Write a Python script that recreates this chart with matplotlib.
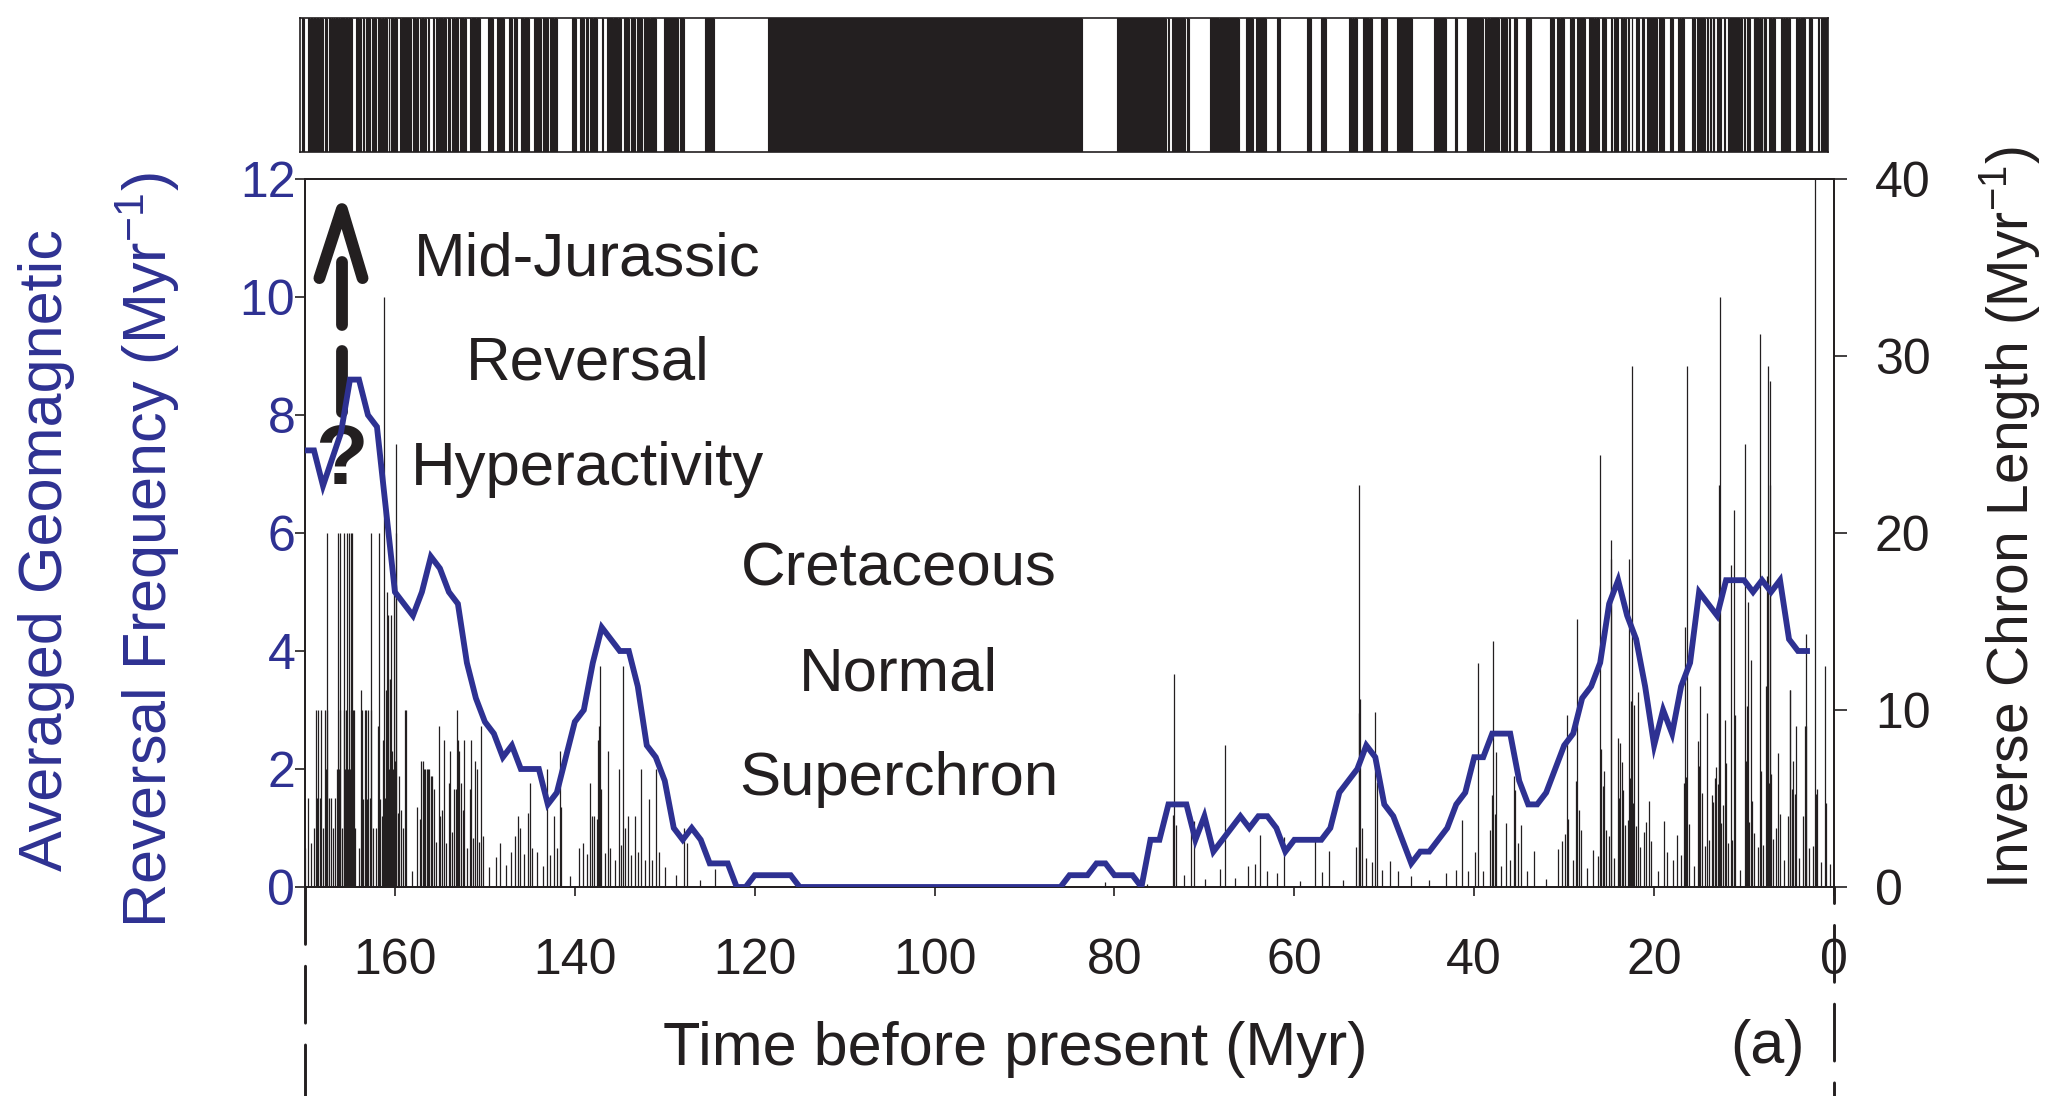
import numpy as np
import matplotlib
matplotlib.use('Agg')
import matplotlib.pyplot as plt
from matplotlib.lines import Line2D

plt.rcParams['font.family'] = ['Liberation Sans', 'DejaVu Sans']
plt.rcParams['mathtext.fontset'] = 'custom'
plt.rcParams['mathtext.rm'] = 'Liberation Sans'
plt.rcParams['mathtext.default'] = 'regular'

INK = '#231f20'
BLUE = '#2e3192'

# polarity reversal ages (Myr), youngest first; chron 0 is normal
reversal_ages = [
    0.0, 0.780, 0.990, 1.070, 1.770, 1.950, 2.140, 2.150, 2.581, 3.040, 3.110, 3.220,
    3.330, 3.580, 4.180, 4.290, 4.480, 4.620, 4.800, 4.890, 4.980, 5.230, 5.894, 6.137,
    6.269, 6.567, 6.935, 7.091, 7.135, 7.170, 7.341, 7.375, 7.432, 7.562, 7.650, 8.072,
    8.225, 8.257, 8.699, 9.025, 9.230, 9.308, 9.580, 9.642, 9.740, 9.880, 9.920, 10.949,
    11.052, 11.099, 11.476, 11.531, 11.935, 12.078, 12.184, 12.401, 12.678, 12.708,
    12.775, 12.819, 12.991, 13.139, 13.302, 13.510, 13.703, 14.076, 14.178, 14.612,
    14.800, 14.888, 15.034, 15.155, 16.014, 16.293, 16.327, 16.488, 16.556, 16.726,
    17.277, 17.615, 18.281, 18.781, 19.048, 20.131, 20.518, 20.725, 20.996, 21.320,
    21.768, 21.859, 22.151, 22.248, 22.459, 22.493, 22.588, 22.750, 22.804, 23.069,
    23.353, 23.535, 23.677, 23.800, 23.999, 24.118, 24.730, 24.781, 24.835, 25.183,
    25.496, 25.648, 25.823, 25.951, 25.992, 26.554, 27.027, 27.972, 28.283, 28.512,
    28.578, 28.745, 29.401, 29.662, 29.765, 30.098, 30.479, 30.939, 33.058, 33.545,
    34.655, 34.940, 35.343, 35.526, 35.685, 36.341, 36.618, 37.473, 37.604, 37.848,
    37.920, 38.113, 38.426, 39.552, 39.631, 40.130, 41.257, 41.521, 42.536, 43.789,
    46.264, 47.906, 49.037, 49.714, 50.778, 50.946, 51.047, 51.743, 52.364, 52.663,
    52.757, 52.801, 52.903, 53.347, 55.904, 56.391, 57.554, 57.911, 60.920, 61.276,
    62.499, 63.634, 63.976, 64.745, 65.578, 67.610, 67.735, 68.737, 71.071, 71.338,
    71.587, 73.004, 73.291, 73.374, 73.619, 79.075, 83.000,
    117.9, 123.9, 124.9, 127.3, 127.7, 128.0, 129.5, 130.4, 130.9, 131.05, 131.7, 131.9,
    132.55, 132.7, 133.2, 133.45, 134.0, 134.25, 134.55, 134.63, 135.05, 135.2, 135.85,
    136.3, 136.43, 136.95, 137.13, 137.21, 137.32, 137.44, 137.7, 137.95, 138.2, 138.37,
    138.9, 139.3, 139.75, 141.4, 141.62, 141.75, 142.2, 142.45, 143.0, 143.15, 144.0,
    144.5, 144.95, 145.12, 145.36, 145.9, 146.2, 146.45, 146.8, 147.3, 148.1, 148.5,
    149.1, 150.0, 150.35, 150.46, 150.85, 151.0, 151.14, 151.5, 151.62, 151.8, 152.25,
    152.37, 152.6, 152.77, 152.9, 153.02, 153.12, 153.3, 153.48, 153.8, 153.93, 154.1,
    154.5, 154.62, 154.85, 155.1, 155.21, 155.6, 155.78, 155.94, 156.1, 156.25, 156.4,
    156.55, 156.7, 156.85, 156.99, 157.13, 157.39, 157.61, 158.7, 158.8, 158.9, 159.2,
    159.43, 159.59, 159.83, 159.87, 159.92, 160.06, 160.12, 160.27, 160.4, 160.465,
    160.55, 160.7, 160.765, 160.85, 160.91, 161.0, 161.2, 161.23, 161.35, 161.6, 161.8,
    161.85, 161.96, 162.26, 162.56, 162.66, 162.71, 162.91, 163.01, 163.21, 163.31,
    163.41, 163.61, 163.71, 163.8, 164.25, 164.55, 164.65, 164.75, 164.8, 164.9, 164.95,
    165.1, 165.15, 165.3, 165.35, 165.45, 165.6, 165.65, 165.75, 166.05, 166.1, 166.2,
    166.35, 166.4, 166.55, 166.75, 167.05, 167.25, 167.45, 167.55, 167.6, 167.75, 167.85,
    168.15, 168.25, 168.45, 168.55, 168.75, 168.85, 169.15, 169.55, 169.75, 170.2,
]

# averaged reversal frequency (Myr^-1)
freq_age = [170, 169, 168, 166, 165, 164, 163, 162, 160, 158, 157, 156, 155, 154, 153,
            152, 151, 150, 149, 148, 147, 146, 144, 143, 142, 141, 140, 139, 138, 137,
            136, 135, 134, 133, 132, 131, 130, 129, 128, 127, 126, 125, 123, 122, 121,
            120, 116, 115, 86, 85, 83, 82, 81, 80, 78, 77, 76, 75, 74, 72, 71, 70, 69,
            68, 67, 66, 65, 64, 63, 62, 61, 60, 57, 56, 55, 54, 53, 52, 51, 50, 49, 48,
            47, 46, 45, 44, 43, 42, 41, 40, 39, 38, 36, 35, 34, 33, 32, 31, 30, 29, 28,
            27, 26, 25, 24, 23, 22, 21, 20, 19, 18, 17, 16, 15, 14, 13, 12, 10, 9, 8, 7,
            6, 5, 4, 3]
freq_value = [7.4, 7.4, 6.8, 7.7, 8.6, 8.6, 8.0, 7.8, 5.0, 4.6, 5.0, 5.6, 5.4, 5.0, 4.8,
              3.8, 3.2, 2.8, 2.6, 2.2, 2.4, 2.0, 2.0, 1.4, 1.6, 2.2, 2.8, 3.0, 3.8, 4.4,
              4.2, 4.0, 4.0, 3.4, 2.4, 2.2, 1.8, 1.0, 0.8, 1.0, 0.8, 0.4, 0.4, 0.0, 0.0,
              0.2, 0.2, 0.0, 0.0, 0.2, 0.2, 0.4, 0.4, 0.2, 0.2, 0.0, 0.8, 0.8, 1.4, 1.4,
              0.8, 1.2, 0.6, 0.8, 1.0, 1.2, 1.0, 1.2, 1.2, 1.0, 0.6, 0.8, 0.8, 1.0, 1.6,
              1.8, 2.0, 2.4, 2.2, 1.4, 1.2, 0.8, 0.4, 0.6, 0.6, 0.8, 1.0, 1.4, 1.6, 2.2,
              2.2, 2.6, 2.6, 1.8, 1.4, 1.4, 1.6, 2.0, 2.4, 2.6, 3.2, 3.4, 3.8, 4.8, 5.2,
              4.6, 4.2, 3.4, 2.4, 3.0, 2.6, 3.4, 3.8, 5.0, 4.8, 4.6, 5.2, 5.2, 5.0, 5.2,
              5.0, 5.2, 4.2, 4.0, 4.0]

time_ticks = [160, 140, 120, 100, 80, 60, 40, 20, 0]
freq_ticks = [0, 2, 4, 6, 8, 10, 12]
inv_ticks = [0, 10, 20, 30, 40]

W, H = 2049, 1096
fig = plt.figure(figsize=(W / 100, H / 100), dpi=100)


def box(x0, y0, x1, y1):
    return [x0 / W, 1 - y1 / H, (x1 - x0) / W, (y1 - y0) / H]


ax = fig.add_axes(box(305, 179, 1834, 887))
ax2 = ax.twinx()
ax.set_zorder(ax2.get_zorder() + 1)
ax.patch.set_visible(False)

# inverse chron length bars
bounds = np.array(reversal_ages)
mids = (bounds[:-1] + bounds[1:]) / 2
inv_len = 1 / np.diff(bounds)
ax2.vlines(mids, 0, inv_len, color=INK, lw=0.9)

# running reversal frequency
ax.plot(freq_age, freq_value, color=BLUE, lw=4.2, solid_joinstyle='miter', zorder=3)

ax.set_xlim(170, 0)
ax.set_ylim(0, 12)
ax2.set_ylim(0, 40)
ax.set_xticks(time_ticks)
ax.set_yticks(freq_ticks)
ax2.set_yticks(inv_ticks)

ax.tick_params(axis='x', direction='out', length=6.5, width=1.2, pad=30, labelsize=36,
               colors=INK)
ax.tick_params(axis='y', direction='out', length=7, width=1.2, pad=0, labelsize=36,
               color=INK, labelcolor=BLUE)
ax2.tick_params(axis='y', direction='out', length=9.5, width=1.2, pad=20, labelsize=36,
                colors=INK)
for a in (ax, ax2):
    for s in a.spines.values():
        s.set_linewidth(1.3)
        s.set_color(INK)

# annotation: arrow and question mark
ax.plot([168.4, 165.9, 163.6], [10.32, 11.49, 10.32], color=INK, lw=8.5,
        solid_capstyle='round', solid_joinstyle='round', zorder=2)
ax.plot([165.9, 165.9], [10.59, 9.53], color=INK, lw=8.5, solid_capstyle='round', zorder=2)
ax.plot([165.9, 165.9], [9.08, 8.05], color=INK, lw=8.5, solid_capstyle='round', zorder=2)
ax.text(165.9, 7.2, '?', fontsize=62, fontweight='bold', color=INK,
        ha='center', va='center', zorder=1)

for label, x, y in [('Mid-Jurassic', 138.6, 10.62), ('Reversal', 138.6, 8.87),
                    ('Hyperactivity', 138.6, 7.08), ('Cretaceous', 104.0, 5.38),
                    ('Normal', 104.0, 3.6), ('Superchron', 104.0, 1.82)]:
    ax.text(x, y, label, fontsize=44.5, color=INK, ha='center', va='center', zorder=1)

# axis titles
fig.text(47 / W, 1 - 550 / H, 'Averaged Geomagnetic', rotation=90, fontsize=44,
         color=BLUE, ha='center', va='center')
fig.text(148 / W, 1 - 550 / H, 'Reversal Frequency (Myr$^{-1}$)', rotation=90,
         fontsize=44, color=BLUE, ha='center', va='center')
fig.text(2009 / W, 1 - 518 / H, 'Inverse Chron Length (Myr$^{-1}$)', rotation=90,
         fontsize=41, color=INK, ha='center', va='center')
fig.text(1015 / W, 1 - 1050 / H, 'Time before present (Myr)', fontsize=44, color=INK,
         ha='center', va='center')
fig.text(1767 / W, 1 - 1047 / H, '(a)', fontsize=44, color=INK, ha='center', va='center')

# dashed guides under the time axis
fig.add_artist(Line2D([305 / W, 305 / W], [1 - 887 / H, 0], transform=fig.transFigure,
                      color=INK, lw=2.1, dashes=(19.5, 7.5), dash_capstyle='round'))
fig.add_artist(Line2D([1834 / W, 1834 / W], [1 - 887 / H, 0], transform=fig.transFigure,
                      color=INK, lw=2.1, linestyle=(14, (19.5, 7.5)),
                      dash_capstyle='round'))

# polarity strip (black = normal)
strip = fig.add_axes(box(300, 18, 1828, 152))
strip.set_facecolor(INK)
for i in range(1, len(bounds) - 1, 2):
    strip.axvspan(bounds[i], bounds[i + 1], color='white', lw=0)
strip.vlines(bounds, 0, 1, color=INK, lw=0.8)
strip.set_xlim(170, 0)
strip.set_ylim(0, 1)
strip.set_xticks([])
strip.set_yticks([])
for s in strip.spines.values():
    s.set_linewidth(1.2)
    s.set_color(INK)

fig.savefig('out.png', dpi=100)
